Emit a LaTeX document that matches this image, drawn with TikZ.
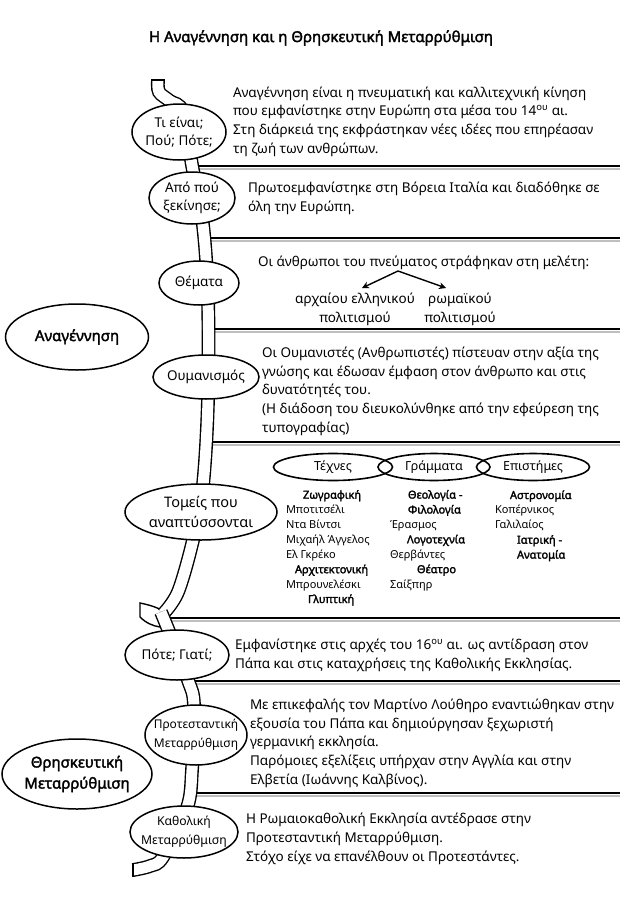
\documentclass[tikz,border=0pt]{standalone}
\usepackage{fontspec}
\setmainfont{Noto Sans}[AutoFakeBold=2.2]
\usetikzlibrary{shapes.geometric, arrows.meta}
\begin{document}
\begin{tikzpicture}[x=1pt,y=-1pt,
  every node/.style={inner sep=0pt, outer sep=0pt},
  ell/.style={draw, ellipse, line width=1.5pt, fill=white},
  etext/.style={align=center, font=\fontsize{13.5}{18}\selectfont},
  sepline/.style={line width=2.2pt},
  shadowline/.style={line width=2pt, black!25},
  vine/.style={line width=1.4pt, double=white, double distance=11pt},
  body/.style={anchor=base west, align=left, font=\fontsize{13.5}{18.6}\selectfont},
  col/.style={anchor=base west, align=left, font=\fontsize{11}{14.9}\selectfont},
  arr/.style={line width=1.4pt, -{Stealth[length=7pt,width=7pt]}}
]
\useasboundingbox (0,0) rectangle (638,902);

% title
\node[font=\fontsize{15}{18}\selectfont\bfseries] (title) at (321,38) {Η Αναγέννηση και η Θρησκευτική Μεταρρύθμιση};

% separator lines
\foreach \y/\xa [count=\i] in {166/192, 238/204, 329/208, 442/205, 618/165, 681/190, 793/190}{
  \coordinate (sa\i) at (\xa,\y);
  \coordinate (sb\i) at (620,\y);
  \draw[shadowline] ([yshift=-2.5pt]sa\i) -- ([yshift=-2.5pt]sb\i);
  \draw[sepline] (sa\i) -- (sb\i);
}

% vine
\draw[line width=1.4pt, fill=white] (140,603) -- (140,617) .. controls (146,623) and (153,626) .. (160,627) -- (168,614) .. controls (160,608) and (150,605) .. (140,603) -- cycle;
\draw[vine] plot[smooth, tension=0.55] coordinates {(158,80) (159,92) (170,101) (183,112) (192,165) (203,225) (208,300) (208,400) (203,485) (193,540) (178,592) (163,614)};
\draw[vine] plot[smooth, tension=0.55] coordinates {(161,612) (170,634) (188,680) (194,705) (192,770) (187,808) (163,857) (150,866) (133,870)};
\coordinate (vt1) at (151.1,80); \coordinate (vt2) at (164.9,80);
\draw[line width=1.4pt] (vt1) -- (vt2);
\coordinate (vb1) at (133,863.1); \coordinate (vb2) at (133,876.9);
\draw[line width=1.4pt] (vb1) -- (vb2);

% ellipses on the vine
\node[ell, minimum width=94pt, minimum height=56pt] (e1) at (179,132) {};
\node[etext] (e1t) at (e1) {Τι είναι;\\Πού; Πότε;};
\node[ell, minimum width=86pt, minimum height=52pt] (e2) at (192,198) {};
\node[etext] (e2t) at (e2) {Από πού\\ξεκίνησε;};
\node[ell, minimum width=80pt, minimum height=44pt] (e3) at (199,283) {};
\node[etext] (e3t) at (e3) {Θέματα};
\node[ell, minimum width=106pt, minimum height=44pt] (e4) at (206,377) {};
\node[etext] (e4t) at (e4) {Ουμανισμός};
\node[ell, minimum width=152pt, minimum height=56pt] (e5) at (201,512) {};
\node[etext, font=\fontsize{14.5}{20}\selectfont] (e5t) at (e5) {Τομείς που\\αναπτύσσονται};
\node[ell, minimum width=104pt, minimum height=50pt] (e6) at (177,655) {};
\node[etext] (e6t) at (e6) {Πότε; Γιατί;};
\node[ell, minimum width=102pt, minimum height=60pt] (e7) at (196,735) {};
\node[etext, font=\fontsize{12}{19}\selectfont] (e7t) at (e7) {Προτεσταντική\\Μεταρρύθμιση};
\node[ell, minimum width=108pt, minimum height=52pt] (e8) at (184,832) {};
\node[etext, font=\fontsize{12.2}{19}\selectfont] (e8t) at (e8) {Καθολική\\Μεταρρύθμιση};

% main category ellipses
\node[ell, minimum width=143pt, minimum height=66pt] (ren) at (77,337) {};
\node[etext, font=\fontsize{15}{19}\selectfont\bfseries] (rent) at (ren) {Αναγέννηση};
\node[ell, minimum width=150pt, minimum height=70pt] (ref) at (77,774) {};
\node[etext, font=\fontsize{15}{21}\selectfont\bfseries] (reft) at (ref) {Θρησκευτική\\Μεταρρύθμιση};

% texts (anchor at last baseline)
\node[body] (t1) at (233,153) {Αναγέννηση είναι η πνευματική και καλλιτεχνική κίνηση\\
που εμφανίστηκε στην Ευρώπη στα μέσα του 14\textsuperscript{ου} αι.\\
Στη διάρκειά της εκφράστηκαν νέες ιδέες που επηρέασαν\\
τη ζωή των ανθρώπων.};
\node[body] (t2) at (248,211) {Πρωτοεμφανίστηκε στη Βόρεια Ιταλία και διαδόθηκε σε\\
όλη την Ευρώπη.};
\node[body] (t3) at (258,266) {Οι άνθρωποι του πνεύματος στράφηκαν στη μελέτη:};
\node[body, anchor=base, align=center] (a1) at (355,322) {αρχαίου ελληνικού\\πολιτισμού};
\node[body, anchor=base, align=center] (a2) at (460,322) {ρωμαϊκού\\πολιτισμού};
\coordinate (apex) at (398,271);
\coordinate (tipl) at (362,288);
\coordinate (tipr) at (446,288);
\draw[arr] (apex) -- (tipl);
\draw[arr] (apex) -- (tipr);
\node[body] (t4) at (262,432) {Οι Ουμανιστές (Ανθρωπιστές) πίστευαν στην αξία της\\
γνώσης και έδωσαν έμφαση στον άνθρωπο και στις\\
δυνατότητές του.\\
(Η διάδοση του διευκολύνθηκε από την εφεύρεση της\\
τυπογραφίας)};

% domains
\node[ell, line width=1.6pt, minimum width=119pt, minimum height=27pt] (o1) at (333,467) {};
\node[ell, line width=1.6pt, fill=none, minimum width=112pt, minimum height=27pt] (o2) at (434,467) {};
\node[ell, line width=1.6pt, fill=none, minimum width=113pt, minimum height=27pt] (o3) at (533,467) {};
\node[etext, font=\fontsize{12.5}{14}\selectfont] (o1t) at (o1) {Τέχνες};
\node[etext, font=\fontsize{12.5}{14}\selectfont] (o2t) at (o2) {Γράμματα};
\node[etext, font=\fontsize{12.5}{14}\selectfont] (o3t) at (o3) {Επιστήμες};

\node[col] (c1) at (286,603) {\hspace*{17pt}\textbf{Ζωγραφική}\\
Μποτιτσέλι\\
Ντα Βίντσι\\
Μιχαήλ Άγγελος\\
Ελ Γκρέκο\\
\hspace*{9pt}\textbf{Αρχιτεκτονική}\\
Μπρουνελέσκι\\
\hspace*{22pt}\textbf{Γλυπτική}};
\node[col] (c2) at (390,588) {\hspace*{18pt}\textbf{Θεολογία -}\\
\hspace*{18pt}\textbf{Φιλολογία}\\
Έρασμος\\
\hspace*{17pt}\textbf{Λογοτεχνία}\\
Θερβάντες\\
\hspace*{27pt}\textbf{Θέατρο}\\
Σαίξπηρ};
\node[col] (c3) at (495,558.6) {\hspace*{15pt}\textbf{Αστρονομία}\\
Κοπέρνικος\\
Γαλιλαίος\\
\hspace*{22pt}\textbf{Ιατρική -}\\
\hspace*{22pt}\textbf{Ανατομία}};

\node[body] (t6) at (235,668) {Εμφανίστηκε στις αρχές του 16\textsuperscript{ου} αι. ως αντίδραση στον\\
Πάπα και στις καταχρήσεις της Καθολικής Εκκλησίας.};
\node[body] (t7) at (250,784) {Με επικεφαλής τον Μαρτίνο Λούθηρο εναντιώθηκαν στην\\
εξουσία του Πάπα και δημιούργησαν ξεχωριστή\\
γερμανική εκκλησία.\\
Παρόμοιες εξελίξεις υπήρχαν στην Αγγλία και στην\\
Ελβετία (Ιωάννης Καλβίνος).};
\node[body] (t8) at (246,861) {Η Ρωμαιοκαθολική Εκκλησία αντέδρασε στην\\
Προτεσταντική Μεταρρύθμιση.\\
Στόχο είχε να επανέλθουν οι Προτεστάντες.};
\end{tikzpicture}
\end{document}
